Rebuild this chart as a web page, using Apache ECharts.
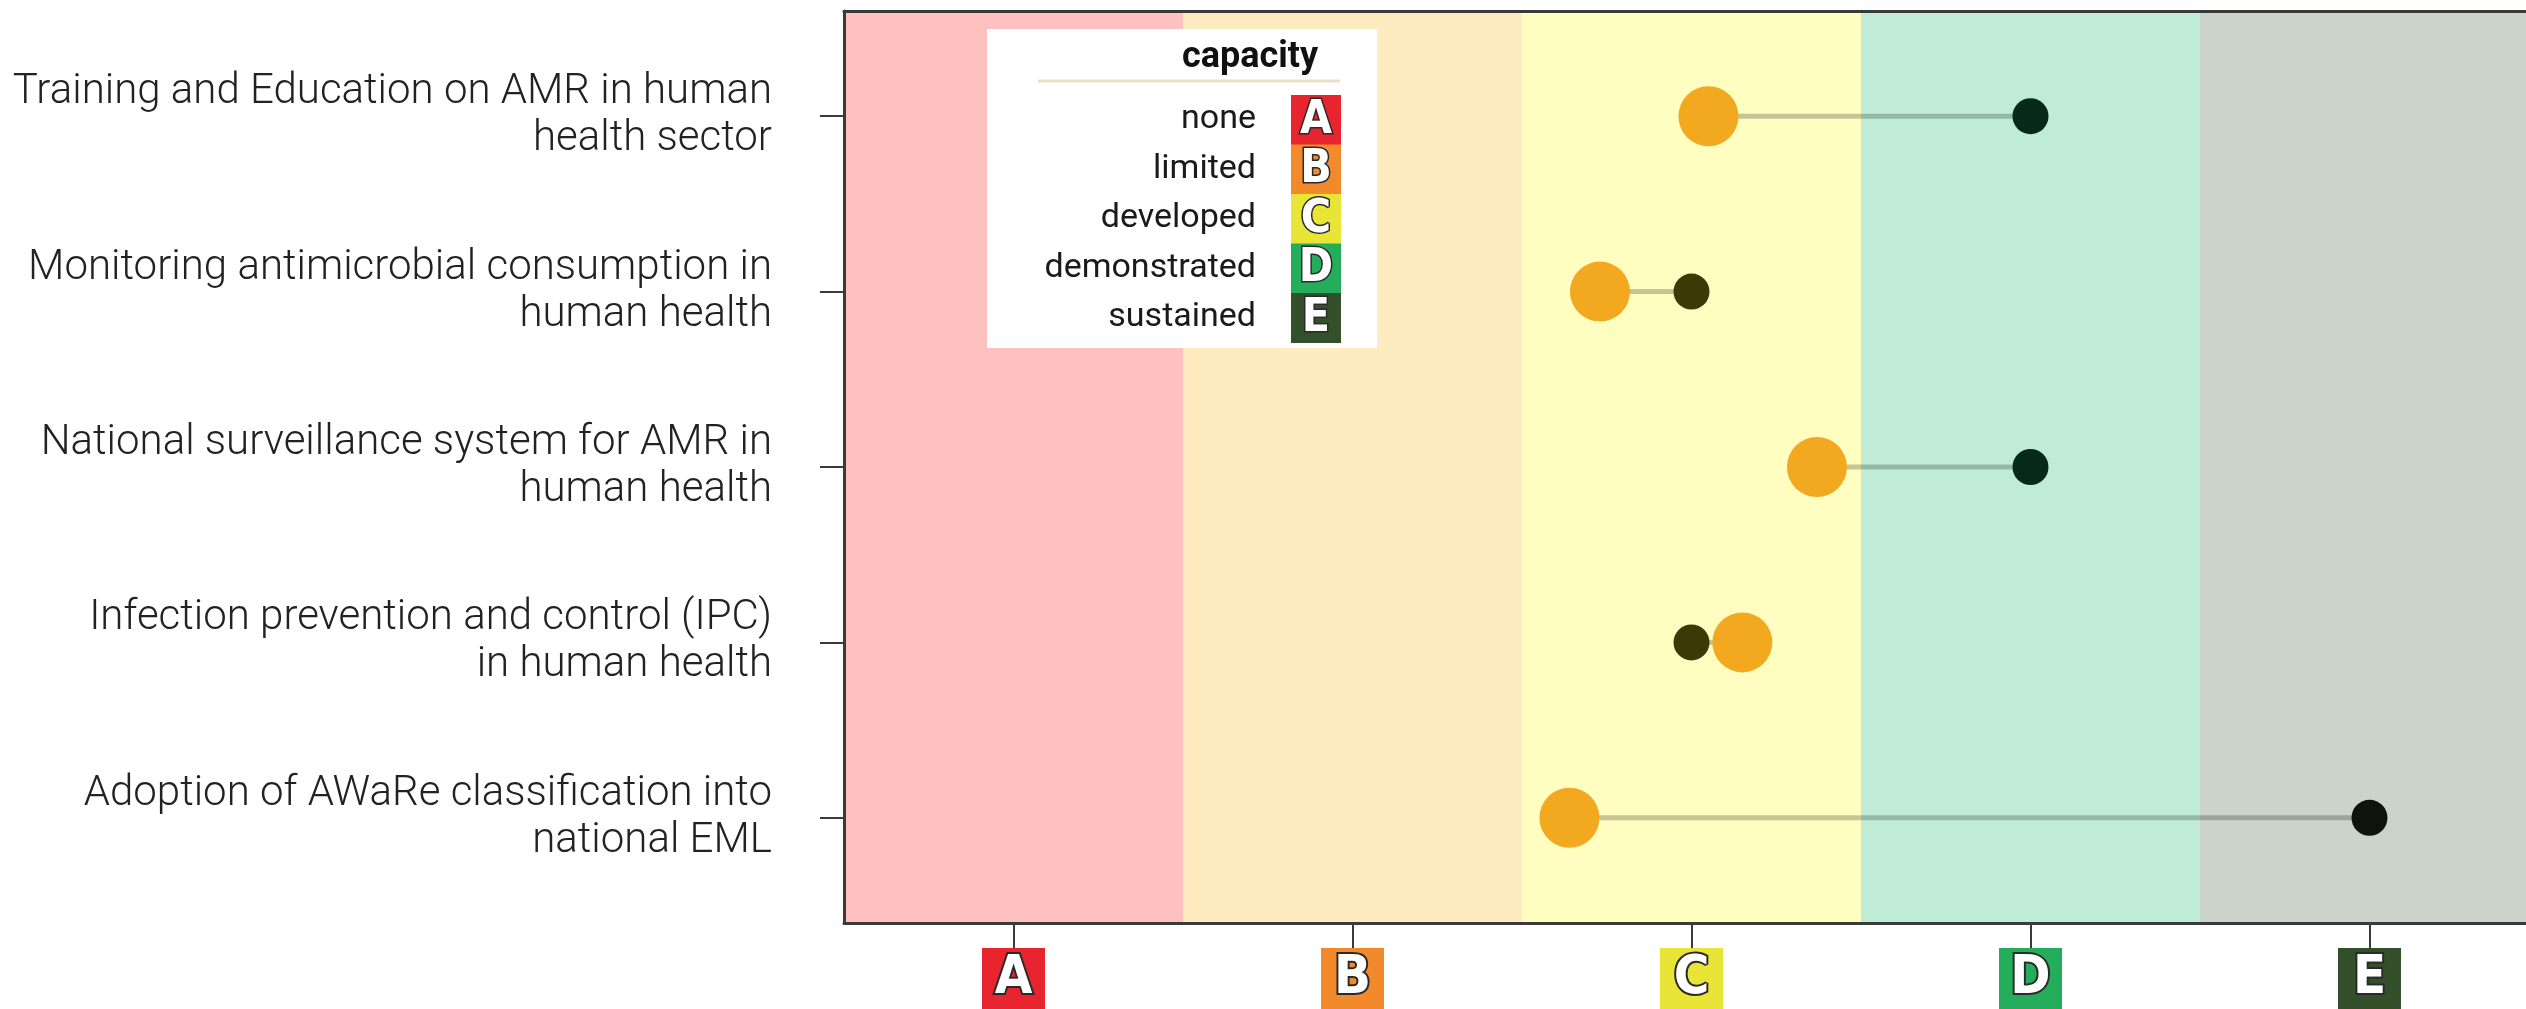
<!DOCTYPE html>
<html>
<head>
<meta charset="utf-8">
<script src="https://cdn.jsdelivr.net/npm/echarts@6/dist/echarts.min.js"></script>
<style>
html,body{margin:0;padding:0;background:#fff;}
#chart{width:2526px;height:1009px;}
</style>
</head>
<body>
<div id="chart"></div>
<script>
// ---- data ----
const categories = [
  'Training and Education on AMR in human\nhealth sector',
  'Monitoring antimicrobial consumption in\nhuman health',
  'National surveillance system for AMR in\nhuman health',
  'Infection prevention and control (IPC)\nin human health',
  'Adoption of AWaRe classification into\nnational EML'
];
const currentScore = [3.05, 2.73, 3.37, 3.15, 2.64];
const targetScore = [4, 3, 4, 3, 5];
const levelLetters = ['A', 'B', 'C', 'D', 'E'];
const levelNames = ['none', 'limited', 'developed', 'demonstrated', 'sustained'];
const legendTitle = 'capacity';

// ---- styles ----
const levelColors = ['#E8252F', '#F28A2B', '#E9E536', '#24AE5C', '#34502B'];
const bandColors = ['#FFC0C0', '#FEEBC0', '#FFFDC0', '#C0ECD5', '#CCD3C8'];
const darkColors = ['#2a0a0a', '#3a2a06', '#3b3906', '#07291a', '#0e130c'];
const orange = '#F2A81F';
const condensedBold = '"DejaVu Sans Condensed","Liberation Sans Narrow","DejaVu Sans",sans-serif';

const chart = echarts.init(document.getElementById('chart'));

const rich = {};
levelLetters.forEach((l, i) => {
  rich[l] = {
    backgroundColor: levelColors[i],
    color: '#fff',
    textBorderColor: '#2a2a2a',
    textBorderWidth: 4,
    fontFamily: condensedBold,
    fontWeight: 'bold',
    fontSize: 54,
    lineHeight: 60,
    width: 63,
    align: 'center',
    padding: [4, 0, 30, 0]
  };
});

const lineData = categories.map((c, i) => [i + 1, currentScore[i], targetScore[i]]);
const targetData = targetScore.map((v, i) => ({value: [v, i + 1], itemStyle: {color: darkColors[v - 1]}}));
const currentData = currentScore.map((v, i) => [v, i + 1]);

const ticks = [1, 2, 3, 4, 5];

// legend graphic
const lgX = 987, lgY = 29, boxX = 1291, boxY = 95, boxW = 50, boxH = 49.5;
const legendEls = [
  {type: 'rect', shape: {x: lgX, y: lgY, width: 390, height: 319}, style: {fill: '#fff'}},
  {type: 'text', style: {x: 1318, y: 58, text: legendTitle, textAlign: 'right', textVerticalAlign: 'middle',
    fontFamily: 'Roboto', fontWeight: 'bold', fontSize: 36, fill: '#111'}},
  {type: 'line', shape: {x1: 1038, y1: 81, x2: 1340, y2: 81}, style: {stroke: '#eadfc6', lineWidth: 3}}
];
levelLetters.forEach((l, i) => {
  const y = boxY + i * boxH;
  legendEls.push({type: 'rect', shape: {x: boxX, y: y, width: boxW, height: boxH + 0.5}, style: {fill: levelColors[i]}});
  legendEls.push({type: 'text', style: {x: boxX + boxW / 2, y: y + boxH / 2 + 1, text: l, textAlign: 'center', textVerticalAlign: 'middle',
    fontFamily: condensedBold, fontWeight: 'bold', fontSize: 46,
    fill: '#fff', stroke: '#2a2a2a', lineWidth: 3}});
  legendEls.push({type: 'text', style: {x: 1256, y: y + boxH / 2, text: levelNames[i], textAlign: 'right', textVerticalAlign: 'middle',
    fontFamily: 'Roboto', fontSize: 34, fill: '#1a1a1a'}});
});

chart.setOption({
  animation: false,
  backgroundColor: '#fff',
  grid: {left: 844, top: 11, bottom: 86, right: -13, containLabel: false, outerBoundsMode: 'none'},
  xAxis: [{
    type: 'value', min: 0.5, max: 5.5, position: 'bottom', z: 5,
    axisLine: {show: true, lineStyle: {color: '#3a3a3a', width: 3}},
    axisTick: {show: true, customValues: ticks, length: 26, lineStyle: {color: '#3a3a3a', width: 2}},
    axisLabel: {customValues: ticks, margin: 39, formatter: v => '{' + levelLetters[v - 1] + '|' + levelLetters[v - 1] + '}', rich: rich},
    splitLine: {show: false}
  }, {
    type: 'value', min: 0.5, max: 5.5, position: 'top', z: 5,
    axisLine: {show: true, lineStyle: {color: '#3a3a3a', width: 3}},
    axisTick: {show: false}, axisLabel: {show: false}, splitLine: {show: false}
  }],
  yAxis: {
    type: 'value', min: 0.4, max: 5.6, inverse: true, z: 5,
    axisLine: {show: true, lineStyle: {color: '#3a3a3a', width: 3}},
    axisTick: {show: true, customValues: ticks, length: 24, lineStyle: {color: '#3a3a3a', width: 2}},
    axisLabel: {customValues: ticks, margin: 72, formatter: v => categories[v - 1],
      fontFamily: 'Roboto', fontWeight: 300, fontSize: 42, lineHeight: 47, color: '#222', align: 'right',
      padding: [0, 0, 18, 0]},
    splitLine: {show: false}
  },
  series: [
    {
      type: 'line', data: [], z: 1, silent: true,
      markArea: {silent: true, data: levelLetters.map((l, i) => [
        {xAxis: i + 0.5, itemStyle: {color: bandColors[i], opacity: 1}}, {xAxis: i + 1.5}
      ])}
    },
    {
      type: 'custom', z: 2, silent: true,
      data: lineData,
      encode: {x: [1, 2], y: 0},
      renderItem: (params, api) => {
        const y = api.value(0);
        const p1 = api.coord([api.value(1), y]);
        const p2 = api.coord([api.value(2), y]);
        return {type: 'line', shape: {x1: p1[0], y1: p1[1], x2: p2[0], y2: p2[1]},
          style: {stroke: 'rgba(0,0,0,0.22)', lineWidth: 5}};
      }
    },
    {type: 'scatter', z: 3, symbolSize: 36, itemStyle: {opacity: 1}, data: targetData},
    {type: 'scatter', z: 4, symbolSize: 60, itemStyle: {color: orange, opacity: 1}, data: currentData}
  ],
  graphic: {elements: legendEls.map(e => Object.assign({z: 100}, e))}
});
</script>
</body>
</html>
